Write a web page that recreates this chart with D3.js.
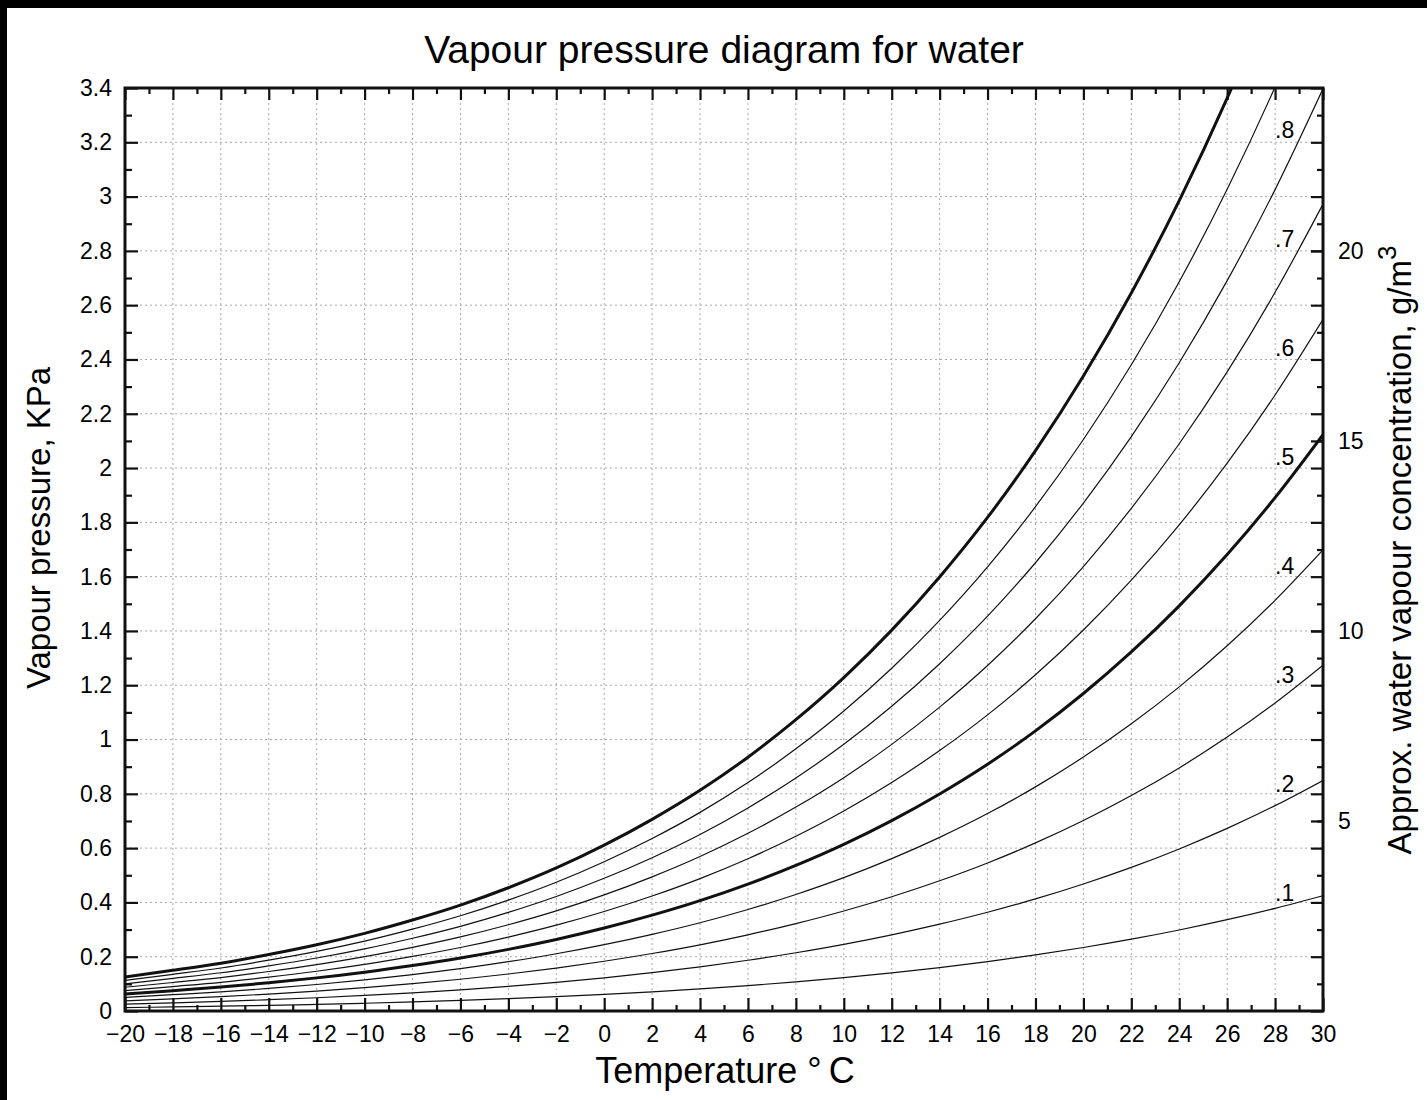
<!DOCTYPE html>
<html>
<head>
<meta charset="utf-8">
<script src="https://cdn.jsdelivr.net/npm/d3@7"></script>
<style>
  body { margin: 0; background: #fff; }
  svg text { font-family: "Liberation Sans", Arial, sans-serif; fill: #000; }
</style>
</head>
<body>
<div id="chart"></div>
<script>
// temperatures (°C) and saturation vapour pressure (kPa)
const temps = [-20, -18, -16, -14, -12, -10, -8, -6, -4, -2, 0, 2, 4, 6, 8, 10, 12, 14, 16, 18, 20, 22, 24, 26, 28, 30];
const satPressure = [0.125, 0.150, 0.176, 0.208, 0.244, 0.286, 0.335, 0.390, 0.454, 0.527, 0.611, 0.706, 0.813, 0.935, 1.073, 1.228, 1.403, 1.599, 1.818, 2.064, 2.339, 2.645, 2.985, 3.363, 3.782, 4.246];

// relative humidity curves, the heavy ones and the labelled ones
const humidity = [0.1, 0.2, 0.3, 0.4, 0.5, 0.6, 0.7, 0.8, 0.9, 1.0];
const heavyHumidity = [0.5, 1.0];
const labelHumidity = [0.1, 0.2, 0.3, 0.4, 0.5, 0.6, 0.7, 0.8];
const labelText = [".1", ".2", ".3", ".4", ".5", ".6", ".7", ".8"];

// axis ticks
const xTicks = [-20, -18, -16, -14, -12, -10, -8, -6, -4, -2, 0, 2, 4, 6, 8, 10, 12, 14, 16, 18, 20, 22, 24, 26, 28, 30];
const xMinor = [-19, -17, -15, -13, -11, -9, -7, -5, -3, -1, 1, 3, 5, 7, 9, 11, 13, 15, 17, 19, 21, 23, 25, 27, 29];
const yTicks = [0, 0.2, 0.4, 0.6, 0.8, 1, 1.2, 1.4, 1.6, 1.8, 2, 2.2, 2.4, 2.6, 2.8, 3, 3.2, 3.4];
const yTickLabels = ["0", "0.2", "0.4", "0.6", "0.8", "1", "1.2", "1.4", "1.6", "1.8", "2", "2.2", "2.4", "2.6", "2.8", "3", "3.2", "3.4"];
const yMinor = [0.1, 0.3, 0.5, 0.7, 0.9, 1.1, 1.3, 1.5, 1.7, 1.9, 2.1, 2.3, 2.5, 2.7, 2.9, 3.1, 3.3];
const concTicks = [5, 10, 15, 20];
const concPerKPa = 50 / 7; // 5 g/m3 sits at 0.7 kPa

const W = 1427, H = 1100;
const plot = { left: 125, right: 1323, top: 88, bottom: 1011 };

const svg = d3.select("#chart").append("svg")
  .attr("width", W)
  .attr("height", H);

// black strips along top and left edge
svg.append("rect").attr("x", 0).attr("y", 0).attr("width", W).attr("height", 8).attr("fill", "#000");
svg.append("rect").attr("x", 0).attr("y", 0).attr("width", 7).attr("height", H).attr("fill", "#000");

const x = d3.scaleLinear().domain([-20, 30]).range([plot.left, plot.right]);
const y = d3.scaleLinear().domain([0, 3.4]).range([plot.bottom, plot.top]);
const yConc = d3.scaleLinear().domain([0, 3.4 * concPerKPa]).range([plot.bottom, plot.top]);
const satAt = d3.scaleLinear().domain(temps).range(satPressure);

// dotted grid
const grid = svg.append("g").attr("class", "grid")
  .attr("stroke", "#a8a8a8")
  .attr("stroke-width", 1)
  .attr("stroke-dasharray", "2,3");
grid.selectAll(".vg")
  .data(xTicks.slice(1, -1))
  .enter().append("line")
  .attr("x1", d => x(d)).attr("x2", d => x(d))
  .attr("y1", plot.top).attr("y2", plot.bottom);
grid.selectAll(".hg")
  .data(yTicks.slice(1, -1))
  .enter().append("line")
  .attr("x1", plot.left).attr("x2", plot.right)
  .attr("y1", d => y(d)).attr("y2", d => y(d));

// curves
svg.append("clipPath").attr("id", "clip")
  .append("rect")
  .attr("x", plot.left).attr("y", plot.top)
  .attr("width", plot.right - plot.left).attr("height", plot.bottom - plot.top);

const line = d3.line()
  .x(d => x(d.t))
  .y(d => y(d.p))
  .curve(d3.curveMonotoneX);

svg.append("g")
  .attr("clip-path", "url(#clip)")
  .selectAll("path")
  .data(humidity)
  .enter().append("path")
  .attr("fill", "none")
  .attr("stroke", "#111")
  .attr("stroke-width", d => heavyHumidity.includes(d) ? 3 : 1.2)
  .attr("d", rh => line(temps.map((t, i) => ({ t: t, p: rh * satPressure[i] }))));

// curve labels near 28 °C
svg.append("g")
  .selectAll("text")
  .data(labelHumidity)
  .enter().append("text")
  .attr("x", x(28))
  .attr("y", d => y(d * satAt(29)) - 1)
  .attr("font-size", 23)
  .text((d, i) => labelText[i]);

// axes
function styleAxis(g) {
  g.select(".domain").remove();
  g.selectAll(".tick line").attr("stroke", "#111").attr("stroke-width", 2.2);
  g.selectAll(".tick text").attr("font-size", 23).attr("font-family", "Liberation Sans, Arial, sans-serif");
}

const fmtX = d => d < 0 ? "\u2212" + Math.abs(d) : String(d);

svg.append("g")
  .attr("transform", `translate(0,${plot.bottom})`)
  .call(d3.axisBottom(x).tickValues(xTicks).tickSizeInner(-13).tickSizeOuter(0).tickPadding(15).tickFormat(fmtX))
  .call(styleAxis);
svg.append("g")
  .attr("transform", `translate(0,${plot.bottom})`)
  .call(d3.axisBottom(x).tickValues(xMinor).tickSizeInner(-6).tickSizeOuter(0).tickFormat(""))
  .call(styleAxis);
svg.append("g")
  .attr("transform", `translate(0,${plot.top})`)
  .call(d3.axisTop(x).tickValues(xTicks).tickSizeInner(-12).tickSizeOuter(0).tickFormat(""))
  .call(styleAxis);
svg.append("g")
  .attr("transform", `translate(0,${plot.top})`)
  .call(d3.axisTop(x).tickValues(xMinor).tickSizeInner(-6).tickSizeOuter(0).tickFormat(""))
  .call(styleAxis);

svg.append("g")
  .attr("transform", `translate(${plot.left},0)`)
  .call(d3.axisLeft(y).tickValues(yTicks).tickSizeInner(-13).tickSizeOuter(0).tickPadding(13)
    .tickFormat((d, i) => yTickLabels[i]))
  .call(styleAxis);
svg.append("g")
  .attr("transform", `translate(${plot.left},0)`)
  .call(d3.axisLeft(y).tickValues(yMinor).tickSizeInner(-7).tickSizeOuter(0).tickFormat(""))
  .call(styleAxis);
svg.append("g")
  .attr("transform", `translate(${plot.right},0)`)
  .call(d3.axisRight(y).tickValues(yTicks).tickSizeInner(-12).tickSizeOuter(0).tickFormat(""))
  .call(styleAxis);
svg.append("g")
  .attr("transform", `translate(${plot.right},0)`)
  .call(d3.axisRight(y).tickValues(yMinor).tickSizeInner(-6).tickSizeOuter(0).tickFormat(""))
  .call(styleAxis);
svg.append("g")
  .attr("transform", `translate(${plot.right},0)`)
  .call(d3.axisRight(yConc).tickValues(concTicks).tickSizeInner(-12).tickSizeOuter(0).tickPadding(15))
  .call(styleAxis);

// frame
svg.append("rect")
  .attr("x", plot.left).attr("y", plot.top)
  .attr("width", plot.right - plot.left).attr("height", plot.bottom - plot.top)
  .attr("fill", "none")
  .attr("stroke", "#111")
  .attr("stroke-width", 3);

// titles
svg.append("text")
  .attr("x", 724).attr("y", 63)
  .attr("text-anchor", "middle")
  .attr("font-size", 39)
  .text("Vapour pressure diagram for water");

svg.append("text")
  .attr("x", 725).attr("y", 1083)
  .attr("text-anchor", "middle")
  .attr("font-size", 36)
  .text("Temperature \u00B0\u2009C");

svg.append("text")
  .attr("transform", "translate(50,528) rotate(-90)")
  .attr("text-anchor", "middle")
  .attr("font-size", 33)
  .text("Vapour pressure, KPa");

const rightLabel = svg.append("text")
  .attr("transform", "translate(1411,550) rotate(-90)")
  .attr("text-anchor", "middle")
  .attr("font-size", 33);
rightLabel.append("tspan").text("Approx. water vapour concentration, g/m");
rightLabel.append("tspan").attr("dy", -15).attr("font-size", 26).text("3");
</script>
</body>
</html>
